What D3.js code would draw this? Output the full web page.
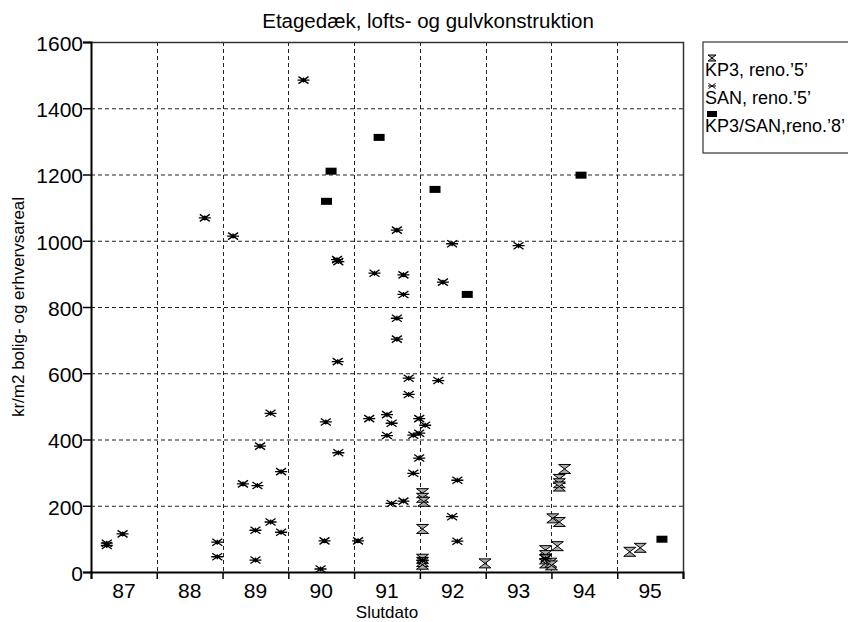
<!DOCTYPE html>
<html>
<head>
<meta charset="utf-8">
<script src="https://cdn.jsdelivr.net/npm/d3@7"></script>
<style>
  html, body { margin: 0; padding: 0; background: #fff; }
  svg { display: block; font-family: "Liberation Sans", Arial, Helvetica, sans-serif; }
</style>
</head>
<body>
<svg id="chart" width="848" height="622"></svg>
<script>
// Year labels (centred in each year band) and value ticks
const yearLabels = [87, 88, 89, 90, 91, 92, 93, 94, 95];
const valueTicks = [0, 200, 400, 600, 800, 1000, 1200, 1400, 1600];

// KP3, reno.'5'  (completion date as fractional year, kr/m2)
const kp3Years  = [92.04, 92.04, 92.06, 92.04, 92.04, 92.04, 92.04, 92.99, 93.91, 93.91, 93.91, 93.91, 93.99, 94.00, 94.02, 94.12, 94.09, 94.12, 94.12, 94.12, 94.20, 95.19, 95.35];
const kp3Values = [238, 224, 212, 130, 40, 30, 22, 26, 66, 51, 38, 26, 28, 20, 162, 151, 78, 281, 268, 258, 311, 61, 73];

// SAN, reno.'5'
const sanYears  = [87.24, 87.24, 87.48, 88.73, 88.92, 88.92, 89.16, 89.31, 89.50, 89.50, 89.53, 89.57, 89.73, 89.73, 89.89, 89.89,
                   90.23, 90.49, 90.55, 90.57, 90.74, 90.76, 90.75, 90.76, 91.06, 91.23, 91.31, 91.50, 91.50, 91.57, 91.57,
                   91.65, 91.65, 91.65, 91.75, 91.75, 91.75, 91.83, 91.83, 91.90, 91.90, 91.99, 91.99, 91.99, 92.08, 92.04,
                   92.28, 92.35, 92.49, 92.49, 92.57, 92.57, 93.50, 93.91];
const sanValues = [87, 80, 115, 1069, 90, 46, 1014, 266, 126, 36, 261, 380, 479, 151, 303, 120,
                   1485, 9, 94, 453, 943, 937, 635, 360, 94, 463, 902, 475, 412, 449, 207,
                   1032, 766, 703, 897, 838, 214, 585, 536, 413, 298, 463, 419, 344, 443, 35,
                   578, 875, 991, 167, 277, 93, 985, 40];

// KP3/SAN, reno.'8'
const mixYears  = [90.58, 90.65, 91.38, 92.23, 92.72, 94.45, 95.68];
const mixValues = [1119, 1210, 1312, 1155, 838, 1198, 99];

const svg = d3.select("#chart");
const plot = { left: 91, top: 42, right: 683, bottom: 572 };

const x = d3.scaleLinear().domain([87, 96]).range([plot.left, plot.right]);
const y = d3.scaleLinear().domain([0, 1600]).range([plot.bottom, plot.top]);

// Marker shapes
const hourglass = "M-6,-4.5H6L-6,4.5H6Z";
const asterisk = "M-6,0H6M-5,-3.5L5,3.5M-5,3.5L5,-3.5M0,-2.5V2.5";

// Dashed grid
const grid = svg.append("g").attr("stroke", "#222").attr("stroke-width", 1).attr("stroke-dasharray", "4,3");
grid.selectAll("line.h").data(valueTicks.slice(1, -1)).join("line")
  .attr("x1", plot.left).attr("x2", plot.right)
  .attr("y1", d => y(d) + 0.5).attr("y2", d => y(d) + 0.5);
grid.selectAll("line.v").data(d3.range(88, 96)).join("line")
  .attr("y1", plot.top).attr("y2", plot.bottom)
  .attr("x1", d => Math.round(x(d)) + 0.5).attr("x2", d => Math.round(x(d)) + 0.5);

// Frame: top and right
svg.append("path")
  .attr("d", `M${plot.left},${plot.top + 0.5}H${plot.right + 0.5}V${plot.bottom}`)
  .attr("fill", "none").attr("stroke", "#333").attr("stroke-width", 1.5);

// Y axis
const yAxis = svg.append("g").attr("transform", `translate(${plot.left},0)`)
  .call(d3.axisLeft(y).tickValues(valueTicks).tickSize(8).tickPadding(0).tickFormat(d3.format("d")));
yAxis.select(".domain").attr("stroke", "#000").attr("stroke-width", 2);
yAxis.selectAll(".tick line").attr("stroke", "#000").attr("stroke-width", 1.5);
yAxis.selectAll(".tick text").attr("font-size", 21).attr("fill", "#000")
  .attr("font-family", "'Liberation Sans', Arial, sans-serif").attr("dy", "0.4em");

// X axis: ticks at year boundaries, labels centred in bands
const xAxis = svg.append("g").attr("transform", `translate(0,${plot.bottom})`)
  .call(d3.axisBottom(x).tickValues(d3.range(87, 97)).tickSize(7).tickFormat(""));
xAxis.select(".domain").attr("stroke", "#000").attr("stroke-width", 2);
xAxis.selectAll(".tick line").attr("stroke", "#000").attr("stroke-width", 1.5);
svg.append("g").selectAll("text").data(yearLabels).join("text")
  .attr("x", d => x(d + 0.5)).attr("y", 598)
  .attr("text-anchor", "middle").attr("font-size", 21).attr("fill", "#000")
  .text(d => d);

// Titles
svg.append("text").attr("x", 428).attr("y", 28).attr("text-anchor", "middle")
  .attr("font-size", 20.5).attr("fill", "#000").text("Etagedæk, lofts- og gulvkonstruktion");
svg.append("text").attr("x", (plot.left + plot.right) / 2).attr("y", 618).attr("text-anchor", "middle")
  .attr("font-size", 17).attr("fill", "#000").text("Slutdato");
svg.append("text").attr("transform", `translate(24,${(plot.top + plot.bottom) / 2}) rotate(-90)`)
  .attr("text-anchor", "middle").attr("font-size", 17).attr("fill", "#000")
  .text("kr/m2 bolig- og erhvervsareal");

// Points
const pts = svg.append("g");
pts.selectAll("path.kp3").data(d3.zip(kp3Years, kp3Values)).join("path")
  .attr("d", hourglass)
  .attr("transform", d => `translate(${x(d[0])},${y(d[1])})`)
  .attr("fill", "#aaa").attr("stroke", "#000").attr("stroke-width", 1);
const san = pts.selectAll("g.san").data(d3.zip(sanYears, sanValues)).join("g")
  .attr("transform", d => `translate(${x(d[0])},${y(d[1])})`);
san.append("path").attr("d", asterisk)
  .attr("fill", "none").attr("stroke", "#000").attr("stroke-width", 1.3);
san.append("circle").attr("r", 1.8).attr("fill", "#000");
pts.selectAll("rect.mix").data(d3.zip(mixYears, mixValues)).join("rect")
  .attr("x", d => x(d[0]) - 5.5).attr("y", d => y(d[1]) - 3.5)
  .attr("width", 11).attr("height", 7).attr("fill", "#000");

// Legend
const lg = svg.append("g");
lg.append("rect").attr("x", 703).attr("y", 42).attr("width", 160).attr("height", 111)
  .attr("fill", "#fff").attr("stroke", "#333").attr("stroke-width", 1.2);
lg.append("path").attr("d", "M-4,-3H4L-4,3H4Z").attr("transform", "translate(712,58)")
  .attr("fill", "#aaa").attr("stroke", "#000");
lg.append("path").attr("d", "M-4,0H4M-3.5,-2.5L3.5,2.5M-3.5,2.5L3.5,-2.5").attr("transform", "translate(712,86)")
  .attr("fill", "none").attr("stroke", "#000");
lg.append("rect").attr("x", 707).attr("y", 111).attr("width", 10).attr("height", 6).attr("fill", "#000");
const legendTexts = ["KP3, reno.\u20195\u2019", "SAN, reno.\u20195\u2019", "KP3/SAN,reno.\u20198\u2019"];
lg.selectAll("text").data(legendTexts).join("text")
  .attr("x", 705).attr("y", (d, i) => 76 + i * 28)
  .attr("font-size", 18).attr("fill", "#000").text(d => d);
</script>
</body>
</html>
